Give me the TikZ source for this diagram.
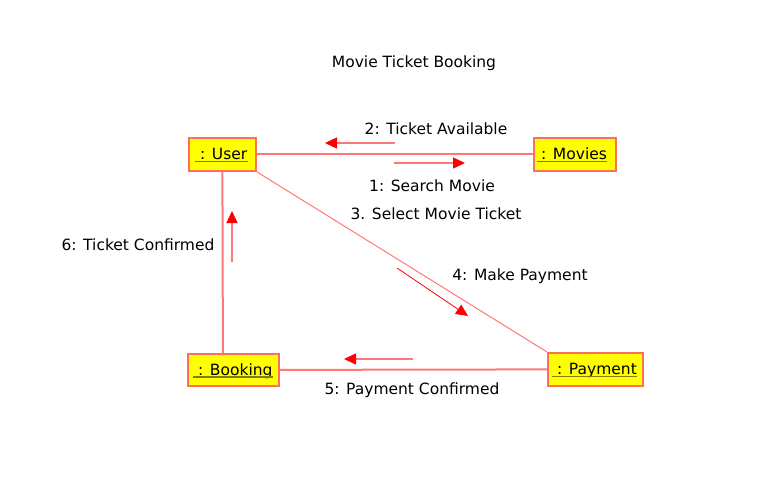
\documentclass[tikz,border=0pt]{standalone}
\usepackage{fontspec}
\setmainfont{DejaVu Sans}
\usetikzlibrary{arrows.meta}
\pgfdeclarelayer{bg}
\pgfsetlayers{bg,main}
\definecolor{lnk}{HTML}{FF7878}
\definecolor{boxfill}{HTML}{FFFF00}
\definecolor{boxline}{HTML}{FF6E5A}
\definecolor{ulc}{HTML}{808000}
\tikzset{
  obj/.style={draw=boxline, line width=1.8pt, fill=boxfill, inner sep=0pt, anchor=north west},
  objtext/.style={font=\fontsize{15.5}{18}\selectfont, inner sep=0pt, anchor=base west},
  uline/.style={draw=ulc, line width=1.5pt},
  lnkline/.style={draw=lnk, line width=2pt},
  msg/.style={draw=lnk, line width=1.4pt, -{Triangle[length=12pt,width=11pt,color=red,fill=red]}},
  lbl/.style={font=\fontsize{15.5}{18}\selectfont, inner sep=0pt}
}
\begin{document}
\begin{tikzpicture}[x=1pt,y=-1pt]
\useasboundingbox (0,0) rectangle (759,492);
\node[obj, minimum width=67pt, minimum height=33pt] (user) at (188,137) {};
\node[obj, minimum width=82pt, minimum height=33pt] (movies) at (533,137) {};
\node[obj, minimum width=91pt, minimum height=32pt] (booking) at (187,353) {};
\node[obj, minimum width=95pt, minimum height=33pt] (payment) at (547,352) {};
% links (behind boxes)
\begin{pgfonlayer}{bg}
\draw[lnkline] (user.east) -- (movies.west);
\draw[lnkline] (user.south) -- ([xshift=-10.5pt]booking.north);
\draw[lnkline, line width=1pt] (user.south east) -- (payment.north west);
\draw[lnkline] (booking.east) -- (payment.west);
\end{pgfonlayer}
% object names
\node[objtext] (un) at (200,159.5) {: User};
\node[objtext] (mn) at (541,159.5) {: Movies};
\node[objtext] (bn) at (198,375) {: Booking};
\node[objtext] (pn) at (557,374.5) {: Payment};
\draw[uline] ([xshift=-5pt,yshift=-2pt]un.base west) -- ([yshift=-2pt]un.base east);
\draw[uline] ([xshift=-4pt,yshift=-2pt]mn.base west) -- ([yshift=-2pt]mn.base east);
\draw[uline] ([xshift=-5pt,yshift=-2pt]bn.base west) -- ([yshift=-2pt]bn.base east);
\draw[uline] ([xshift=-5pt,yshift=-2pt]pn.base west) -- ([yshift=-2pt]pn.base east);
% messages
\coordinate (m2s) at (395,143); \coordinate (m2e) at (325,143);
\draw[msg] (m2s) -- (m2e);
\coordinate (m1s) at (394,163); \coordinate (m1e) at (465,163);
\draw[msg] (m1s) -- (m1e);
\coordinate (m4s) at (397,268); \coordinate (m4e) at (468,316);
\draw[msg, draw=red, line width=0.8pt] (m4s) -- (m4e);
\coordinate (m6s) at (232,262); \coordinate (m6e) at (232,211);
\draw[msg] (m6s) -- (m6e);
\coordinate (m5s) at (413,359); \coordinate (m5e) at (344,359);
\draw[msg] (m5s) -- (m5e);
% labels
\node[lbl] (t) at (414,63) {Movie Ticket Booking};
\node[lbl] (l2) at (436,129) {2: Ticket Available};
\node[lbl] (l1) at (432,186) {1: Search Movie};
\node[lbl] (l3) at (436,214) {3. Select Movie Ticket};
\node[lbl] (l4) at (520,276) {4: Make Payment};
\node[lbl] (l6) at (138,245) {6: Ticket Confirmed};
\node[lbl] (l5) at (412,390) {5: Payment Confirmed};
\end{tikzpicture}
\end{document}
